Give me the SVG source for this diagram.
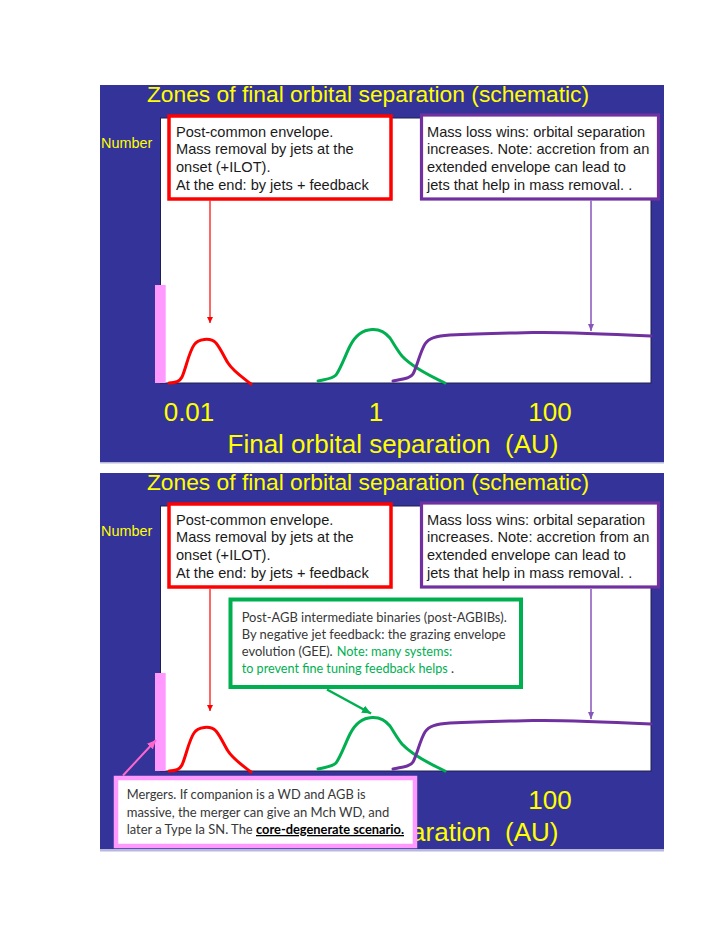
<svg xmlns="http://www.w3.org/2000/svg" width="723" height="935" viewBox="0 0 723 935">
<defs>
<style>
.bg{fill:#333399}
.sep{fill:#b8b8dc}
.plot{fill:#ffffff;stroke:#1e1e50;stroke-width:1}
.pinkbar{fill:#ff99ff}
.ttl{font-family:"Liberation Sans",Arial,sans-serif;font-size:22.8px;fill:#ffff00;text-anchor:middle}
.ax{font-family:"Liberation Sans",Arial,sans-serif;font-size:26px;fill:#ffff00;text-anchor:middle}
.num{font-family:"Liberation Sans",Arial,sans-serif;font-size:14.4px;fill:#ffff00}
.bt{font-family:"Liberation Sans",Arial,sans-serif;font-size:14.6px;fill:#1a1a1a}
.ct{font-family:Lato,"Open Sans",sans-serif;font-size:12.9px;fill:#383838}
.gn{fill:#00b050}
.cd{font-weight:bold;fill:#000000;text-decoration:underline}
.redbox{fill:#ffffff;stroke:#ff0000;stroke-width:3.5}
.purbox{fill:#ffffff;stroke:#7030a0;stroke-width:3.2}
.grnbox{fill:#ffffff;stroke:#00b050;stroke-width:4}
.pnkbox{fill:#ffffff;stroke:#ff99ff;stroke-width:4.5}
.cr{fill:none;stroke:#ff0000;stroke-width:3;stroke-linecap:round}
.cg{fill:none;stroke:#00b050;stroke-width:3;stroke-linecap:round}
.cp{fill:none;stroke:#7030a0;stroke-width:3;stroke-linecap:round}
</style>
<marker id="ahR" markerUnits="userSpaceOnUse" markerWidth="8" markerHeight="8" refX="6" refY="3" orient="auto"><path d="M0,0 L6,3 L0,6 z" fill="#ff0000"/></marker>
<marker id="ahP" markerUnits="userSpaceOnUse" markerWidth="8" markerHeight="8" refX="7" refY="3" orient="auto"><path d="M0,0 L7,3 L0,6 z" fill="#8855bb"/></marker>
<marker id="ahG" markerUnits="userSpaceOnUse" markerWidth="12" markerHeight="12" refX="9" refY="4" orient="auto"><path d="M0,0 L9,4 L0,8 z" fill="#00b050"/></marker>
<marker id="ahK" markerUnits="userSpaceOnUse" markerWidth="12" markerHeight="12" refX="9" refY="4" orient="auto"><path d="M0,0 L9,4 L0,8 z" fill="#ff66cc"/></marker>
</defs>

<!-- ===== Panel 1 ===== -->
<g id="panel1">
  <rect class="sep" x="100" y="461" width="564" height="2.5"/>
  <rect class="bg" x="100" y="85" width="564" height="377"/>
  <rect class="plot" x="160.5" y="118" width="490.5" height="265"/>
  <rect class="pinkbar" x="155" y="285" width="10.7" height="98"/>
</g>
<g id="title1"><text class="ttl" x="368" y="102">Zones of final orbital separation (schematic)</text></g>
<g id="ylabel1"><text class="num" x="101" y="148.3">Number</text></g>
<g id="curve-red1"><path class="cr" d="M169,383 C176,383 180,381 182,377 C186,368 189,352 194,345 C198,339 210,337 216,343 C221,349 224,357 228,363 C233,371 242,377 251,384"/></g>
<g id="curve-green1"><path class="cg" d="M318,381 C326,379 332,379 336,375 C341,368 345,356 350,346 C355,336 362,330 372,329.5 C381,329 386,333 390,338 C394,344 397,350 402,356 C412,367 430,376 445,383"/></g>
<g id="curve-purple1"><path class="cp" d="M393,381 C402,379 410,379 413,374 C417,367 420,352 425,344 C429,338 436,336 450,335 C480,333.5 510,333 533,332.5 C560,332 600,333.5 651,336"/></g>
<g id="axis1">
  <text class="ax" x="189" y="420.5">0.01</text>
  <text class="ax" x="376" y="420.5">1</text>
  <text class="ax" x="550" y="420.5">100</text>
  <text class="ax" x="393" y="453" xml:space="preserve">Final orbital separation  (AU)</text>
</g>
<g id="box-ce1">
  <rect class="redbox" x="169" y="116" width="222" height="83"/>
  <text class="bt" x="176" y="136.5">Post-common envelope.</text>
  <text class="bt" x="176" y="154">Mass removal by jets at the</text>
  <text class="bt" x="176" y="172">onset (+ILOT).</text>
  <text class="bt" x="176" y="189.5">At the end: by jets + feedback</text>
</g>
<g id="box-massloss1">
  <rect class="purbox" x="421.5" y="115" width="237" height="84"/>
  <text class="bt" x="427" y="136.5">Mass loss wins: orbital separation</text>
  <text class="bt" x="427" y="154">increases. Note: accretion from an</text>
  <text class="bt" x="427" y="172">extended envelope can lead to</text>
  <text class="bt" x="427" y="189.5">jets that help in mass removal. .</text>
</g>

<!-- ===== Panel 2 ===== -->
<g id="panel2" transform="translate(0,388)">
  <rect class="sep" x="100" y="461" width="564" height="2.5"/>
  <rect class="bg" x="100" y="85" width="564" height="376"/>
  <rect class="plot" x="160.5" y="118" width="490.5" height="265"/>
  <rect class="pinkbar" x="155" y="285" width="10.7" height="98"/>
</g>
<g id="title2" transform="translate(0,388)"><text class="ttl" x="368" y="102">Zones of final orbital separation (schematic)</text></g>
<g id="ylabel2" transform="translate(0,388)"><text class="num" x="101" y="148.3">Number</text></g>
<g id="curve-red2" transform="translate(0,388)"><path class="cr" d="M169,383 C176,383 180,381 182,377 C186,368 189,352 194,345 C198,339 210,337 216,343 C221,349 224,357 228,363 C233,371 242,377 251,384"/></g>
<g id="curve-green2" transform="translate(0,388)"><path class="cg" d="M318,381 C326,379 332,379 336,375 C341,368 345,356 350,346 C355,336 362,330 372,329.5 C381,329 386,333 390,338 C394,344 397,350 402,356 C412,367 430,376 445,383"/></g>
<g id="curve-purple2" transform="translate(0,388)"><path class="cp" d="M393,381 C402,379 410,379 413,374 C417,367 420,352 425,344 C429,338 436,336 450,335 C480,333.5 510,333 533,332.5 C560,332 600,333.5 651,336"/></g>
<g id="axis2">
  <text class="ax" x="550" y="808.5">100</text>
  <text class="ax" x="558.5" y="841" style="text-anchor:end" xml:space="preserve">aration  (AU)</text>
</g>
<g id="box-ce2" transform="translate(0,388)">
  <rect class="redbox" x="169" y="116" width="222" height="83"/>
  <text class="bt" x="176" y="136.5">Post-common envelope.</text>
  <text class="bt" x="176" y="154">Mass removal by jets at the</text>
  <text class="bt" x="176" y="172">onset (+ILOT).</text>
  <text class="bt" x="176" y="189.5">At the end: by jets + feedback</text>
</g>
<g id="box-massloss2" transform="translate(0,388)">
  <rect class="purbox" x="421.5" y="115" width="237" height="84"/>
  <text class="bt" x="427" y="136.5">Mass loss wins: orbital separation</text>
  <text class="bt" x="427" y="154">increases. Note: accretion from an</text>
  <text class="bt" x="427" y="172">extended envelope can lead to</text>
  <text class="bt" x="427" y="189.5">jets that help in mass removal. .</text>
</g>
<g id="box-gee">
  <rect class="grnbox" x="230.5" y="599.5" width="290.5" height="87.5"/>
  <text class="ct" x="241.7" y="621.7" textLength="265" lengthAdjust="spacingAndGlyphs">Post-AGB intermediate binaries (post-AGBIBs).</text>
  <text class="ct" x="241.7" y="639" textLength="264" lengthAdjust="spacingAndGlyphs">By negative jet feedback: the grazing envelope</text>
  <text class="ct" x="241.7" y="656.2" textLength="91" lengthAdjust="spacingAndGlyphs">evolution (GEE).</text>
  <text class="ct gn" x="336.7" y="656.2" textLength="115.6" lengthAdjust="spacingAndGlyphs">Note: many systems:</text>
  <text class="ct gn" x="241.7" y="673.4" textLength="206" lengthAdjust="spacingAndGlyphs">to prevent fine tuning feedback helps</text>
  <text class="ct" x="451" y="673.4">.</text>
</g>
<g id="box-mergers">
  <rect class="pnkbox" x="116" y="778" width="299" height="68"/>
  <text class="ct" x="126.7" y="799.3" textLength="239" lengthAdjust="spacingAndGlyphs">Mergers. If companion is a WD and AGB is</text>
  <text class="ct" x="126.7" y="816.7" textLength="262.7" lengthAdjust="spacingAndGlyphs">massive, the merger can give an Mch WD, and</text>
  <text class="ct" x="126.7" y="834" textLength="126" lengthAdjust="spacingAndGlyphs">later a Type Ia SN. The</text>
  <text class="ct cd" x="256" y="834" textLength="148" lengthAdjust="spacingAndGlyphs">core-degenerate scenario.</text>
</g>

<!-- ===== Connectors ===== -->
<g id="connectors">
  <line x1="210" y1="200.5" x2="210" y2="323" stroke="#ff0000" stroke-width="1.2" marker-end="url(#ahR)"/>
  <line x1="591" y1="200.5" x2="591" y2="331" stroke="#8855bb" stroke-width="1.5" marker-end="url(#ahP)"/>
  <line x1="210" y1="589" x2="210" y2="711" stroke="#ff0000" stroke-width="1.2" marker-end="url(#ahR)"/>
  <line x1="591" y1="589" x2="591" y2="719" stroke="#8855bb" stroke-width="1.5" marker-end="url(#ahP)"/>
  <line x1="327" y1="689.5" x2="371" y2="713.5" stroke="#00b050" stroke-width="2.5" marker-end="url(#ahG)"/>
  <line x1="123" y1="775.5" x2="156" y2="740" stroke="#ff66cc" stroke-width="2" marker-end="url(#ahK)"/>
</g>
</svg>
